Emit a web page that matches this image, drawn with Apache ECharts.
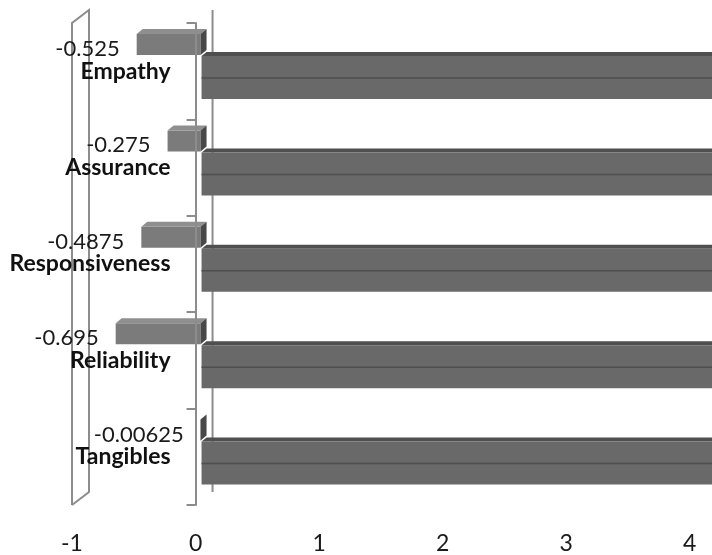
<!DOCTYPE html>
<html>
<head>
<meta charset="utf-8">
<script src="https://cdn.jsdelivr.net/npm/echarts@6/dist/echarts.min.js"></script>
<style>
  html, body { margin: 0; padding: 0; background: #fff; }
  #chart { width: 712px; height: 555px; }
</style>
</head>
<body>
<div id="chart"></div>
<script>
const categories = ['Empathy', 'Assurance', 'Responsiveness', 'Reliability', 'Tangibles']
const gapValues = [-0.525, -0.275, -0.4875, -0.695, -0.00625]
// long bars run past the right edge, only "more than 4.2" can be read
const scoreValues = [4.55, 4.6, 4.5, 4.5, 4.6]
const xMin = -1
const xMax = 4.18

const AXIS = '#8c8c8c'
const LEFT = 72
const TOP = 23
const BOTTOM = 505
const WIDTH = 712 - LEFT
const DX = 17
const DY = -13

function renderGap(params, api) {
  const v = api.value(1)
  const c = api.coord([v, api.value(0)])
  const zero = api.coord([0, api.value(0)])
  const band = api.size([0, 1])[1]
  const top = c[1] - band / 2
  const xl = c[0] + 6
  const xr = zero[0] + 5
  const y1 = top + 11
  const y2 = top + 32
  return {
    type: 'group',
    children: [
      { type: 'rect', shape: { x: xl, y: y1, width: Math.max(xr - xl, 0.5), height: y2 - y1 }, style: { fill: '#7b7b7b' } },
      { type: 'polygon', shape: { points: [[xl, y1], [xl + 6, y1 - 5], [xr + 6, y1 - 5], [xr, y1]] }, style: { fill: '#8f8f8f' } },
      { type: 'polygon', shape: { points: [[xr, y1], [xr + 6, y1 - 5], [xr + 6, y2 - 5], [xr, y2]] }, style: { fill: '#484848' } },
      {
        type: 'text',
        style: {
          text: String(v), x: xl - 17, y: top + 26,
          align: 'right', verticalAlign: 'middle',
          fontFamily: 'Lato', fontSize: 22, fill: '#1a1a1a',
        },
      },
    ],
  }
}

function renderScore(params, api) {
  const v = api.value(1)
  const c = api.coord([v, api.value(0)])
  const zero = api.coord([0, api.value(0)])
  const band = api.size([0, 1])[1]
  const top = c[1] - band / 2
  const xl = zero[0] + 6
  const xr = c[0] + 6
  return {
    type: 'group',
    children: [
      { type: 'polygon', shape: { points: [[xl, top + 33], [xl + 5, top + 29], [xr + 5, top + 29], [xr, top + 33]] }, style: { fill: '#4f4f4f' } },
      { type: 'rect', shape: { x: xl, y: top + 33, width: xr - xl, height: 43 }, style: { fill: '#696969' } },
      { type: 'line', shape: { x1: xl, y1: top + 55, x2: xr, y2: top + 55 }, style: { stroke: '#4e4e4e', lineWidth: 1.5 } },
    ],
  }
}

const chart = echarts.init(document.getElementById('chart'))

chart.setOption({
  animation: false,
  backgroundColor: '#fff',
  grid: { left: LEFT, right: 0, top: TOP, bottom: 555 - BOTTOM, containLabel: false, outerBoundsMode: 'none' },
  xAxis: {
    type: 'value',
    min: xMin,
    max: xMax,
    interval: 1,
    splitLine: { show: false },
    axisLine: { lineStyle: { color: AXIS, width: 2 } },
    axisTick: { length: 8, lineStyle: { color: AXIS, width: 2 } },
    axisLabel: {
      showMaxLabel: false,
      margin: 27,
      fontFamily: 'Lato',
      fontSize: 23,
      color: '#1a1a1a',
    },
  },
  yAxis: {
    type: 'category',
    data: categories,
    inverse: true,
    z: 3,
    // category axis sits on the zero line of the value axis
    offset: -((0 - xMin) / (xMax - xMin)) * WIDTH,
    axisLine: { onZero: false, lineStyle: { color: AXIS, width: 2 } },
    axisTick: { show: true, length: 9, lineStyle: { color: AXIS, width: 2 } },
    axisLabel: {
      margin: 25,
      fontFamily: 'Lato',
      fontWeight: 'bold',
      fontSize: 23,
      color: '#111',
    },
  },
  series: [
    {
      name: 'Gap',
      type: 'custom',
      renderItem: renderGap,
      encode: { x: 1, y: 0 },
      data: gapValues.map((v, i) => [i, v]),
      z: 2,
    },
    {
      name: 'Score',
      type: 'custom',
      renderItem: renderScore,
      encode: { x: 1, y: 0 },
      clip: true,
      data: scoreValues.map((v, i) => [i, v]),
      z: 2,
    },
  ],
})

// side wall and back plane of the 3D frame
const xLeft = chart.convertToPixel({ xAxisIndex: 0 }, xMin)
const xZero = chart.convertToPixel({ xAxisIndex: 0 }, 0)
const wallStyle = { stroke: AXIS, lineWidth: 2, fill: null }
chart.setOption({
  graphic: [
    {
      type: 'polyline',
      z: 0,
      shape: { points: [[xLeft, BOTTOM], [xLeft, TOP], [xLeft + DX, TOP + DY], [xLeft + DX, BOTTOM + DY], [xLeft, BOTTOM]] },
      style: wallStyle,
    },
    {
      type: 'line',
      z: 0,
      shape: { x1: xZero + DX, y1: TOP + DY, x2: xZero + DX, y2: BOTTOM + DY },
      style: wallStyle,
    },
  ],
})
</script>
</body>
</html>
